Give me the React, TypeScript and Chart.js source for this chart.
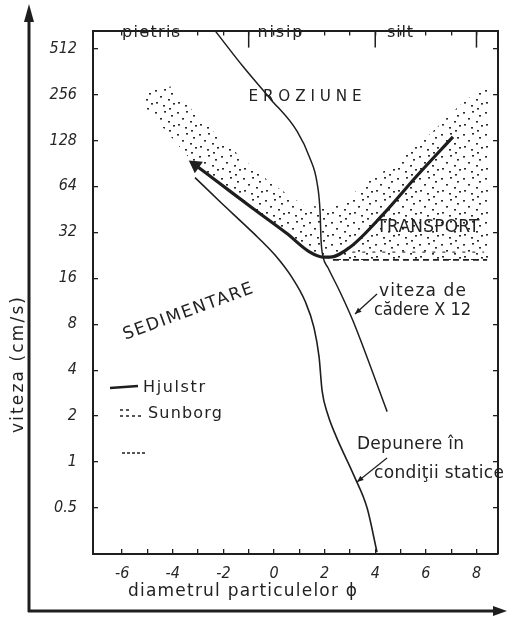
import React, { useEffect, useRef } from "react";
import { Chart, registerables } from "chart.js";

Chart.register(...registerables);

// ---------- data ----------
const xTickValues = [-6, -5, -4, -3, -2, -1, 0, 1, 2, 3, 4, 5, 6, 7, 8];
const xLabelValues = [-6, -4, -2, 0, 2, 4, 6, 8];
const xLabels = ["-6", "-4", "-2", "0", "2", "4", "6", "8"];

const yTickValues = [0.5, 1, 2, 4, 8, 16, 32, 64, 128, 256, 512];
const yLabels = ["0.5", "1", "2", "4", "8", "16", "32", "64", "128", "256", "512"];

const classBoundaries = [-1, 4, 8];
const classNames = ["pietris", "nisip", "silt"];

// Hjulström erosion curve
const hjulstromPhi = [-3.1, -2.1, -0.83, 0.5, 1.42, 1.94, 2.21, 3.0, 4.31, 5.65, 7.07];
const hjulstromV = [88, 66, 45.8, 31.5, 23.7, 22, 22, 25.5, 41.9, 75, 135];

// "viteza de cădere X 12"
const caderePhi = [-2.33, -1.23, -0.16, 0.91, 1.42, 1.7, 1.82, 1.86, 1.94, 2.13, 2.61, 3.12, 4.47];
const cadereV = [670, 391, 241, 147, 97.8, 67.8, 43.8, 28.3, 22.1, 18.8, 13.0, 8.42, 2.14];

// "Depunere în condiţii statice"
const depunerePhi = [-3.12, -2.13, -0.83, 0.04, 0.71, 1.23, 1.58, 1.78, 1.9, 2.13, 2.45, 3.16, 3.68, 4.07];
const depunereV = [73, 50.7, 31.8, 22.7, 16.2, 11.3, 7.6, 4.9, 2.94, 2.04, 1.48, 0.815, 0.5, 0.257];

// Sundborg transport band (closed outline)
const sundborgPhi = [-5.22, -4.9, -4.07, -3.2, -2.81, -1.46, -0.16, 1.15, 2.33, 3.68, 4.98, 6.28, 7.35, 8.3, 8.5, 8.5, 2.3, 1.94, 1.42, 0.5, -0.83, -2.1, -3.1];
const sundborgV = [224, 271, 288, 200, 170, 105, 68, 48.5, 45.8, 67.8, 95, 147, 218, 292, 280, 21.1, 21.1, 22, 23.7, 31.5, 45.8, 66, 88];

// transport limits (dashed)
const transportLimitPhi = [2.33, 8.42];
const transportLimitV = [21.1, 21.1];
const transportInnerPhi = [2.7, 8.3];
const transportInnerV = [23.7, 23.7];

// ---------- style ----------
const INK = "#1e1e1e";
const FONT = "'DejaVu Sans Condensed', 'Liberation Sans Narrow', 'DejaVu Sans', sans-serif";
const TEXT_FONT = "'DejaVu Sans', 'Liberation Sans', sans-serif";

const pts = (xs: number[], ys: number[]) => xs.map((x, i) => ({ x, y: ys[i] }));

function makeStipple(): CanvasPattern | string {
  const c = document.createElement("canvas");
  c.width = 22;
  c.height = 22;
  const g = c.getContext("2d");
  if (!g) return "rgba(0,0,0,0.25)";
  g.fillStyle = "#2a2a2a";
  const dots = [[1, 2], [10, 1], [17, 5], [6, 8], [14, 11], [2, 14], [19, 15], [9, 17], [15, 20]];
  for (const [x, y] of dots) g.fillRect(x, y, 2, 1.6);
  return g.createPattern(c, "repeat") || "rgba(0,0,0,0.25)";
}

const decor = {
  id: "decor",
  beforeDraw(chart: any) {
    const ctx = chart.ctx;
    ctx.save();
    ctx.fillStyle = "#ffffff";
    ctx.fillRect(0, 0, chart.width, chart.height);
    ctx.restore();
  },
  afterDraw(chart: any) {
    const ctx: CanvasRenderingContext2D = chart.ctx;
    const xs = chart.scales.x;
    const area = chart.chartArea;
    ctx.save();
    ctx.strokeStyle = INK;
    ctx.fillStyle = INK;

    // long class-boundary ticks on top axis
    ctx.lineWidth = 1.5;
    classBoundaries.forEach((b) => {
      const px = xs.getPixelForValue(b);
      ctx.beginPath();
      ctx.moveTo(px, area.top);
      ctx.lineTo(px, area.top + 17);
      ctx.stroke();
    });

    // outer axes arrows
    ctx.lineWidth = 3;
    ctx.beginPath();
    ctx.moveTo(29, 612);
    ctx.lineTo(29, 18);
    ctx.stroke();
    ctx.beginPath();
    ctx.moveTo(29, 4);
    ctx.lineTo(24, 22);
    ctx.lineTo(34, 22);
    ctx.closePath();
    ctx.fill();
    ctx.beginPath();
    ctx.moveTo(28, 611);
    ctx.lineTo(496, 611);
    ctx.stroke();
    ctx.beginPath();
    ctx.moveTo(507, 611);
    ctx.lineTo(493, 606);
    ctx.lineTo(493, 616);
    ctx.closePath();
    ctx.fill();

    // text with given size, letter-spaced to a target width
    const txt = (s: string, x: number, y: number, size: number, align: CanvasTextAlign, rot: number, w: number) => {
      ctx.save();
      ctx.translate(x, y);
      if (rot) ctx.rotate(rot);
      ctx.font = `${size}px ${TEXT_FONT}`;
      ctx.textBaseline = "middle";
      ctx.fillStyle = "#222";
      (ctx as any).letterSpacing = "0px";
      const m = ctx.measureText(s).width;
      const n = Math.max(1, s.length - 1);
      let spacing = (w - m) / n;
      let sx = 1;
      if (spacing < 0) {
        sx = w / m;
        spacing = 0;
      }
      (ctx as any).letterSpacing = `${spacing}px`;
      const startX = align === "center" ? -w / 2 : align === "right" ? -w : 0;
      ctx.textAlign = "left";
      ctx.scale(sx, 1);
      ctx.fillText(s, startX / sx, 0);
      ctx.restore();
    };

    // grain class names
    txt(classNames[0], 151, 33, 16, "center", 0, 58);
    txt(classNames[1], 280, 33, 16, "center", 0, 45);
    txt(classNames[2], 400, 33, 16, "center", 0, 26);

    // region labels
    txt("E R O Z I U N E", 305, 97, 16, "center", 0, 113);
    txt("TRANSPORT", 428, 228, 17, "center", 0, 103);
    txt("SEDIMENTARE", 188, 312, 17, "center", -0.35, 137);

    txt("viteza de", 379, 292, 17, "left", 0, 87);
    txt("cădere X 12", 374, 311, 17, "left", 0, 97);
    txt("Depunere în", 357, 445, 17, "left", 0, 107);
    txt("condiţii statice", 374, 474, 17, "left", 0, 130);

    // annotation arrows
    const arrow = (x1: number, y1: number, x2: number, y2: number) => {
      ctx.lineWidth = 1.3;
      ctx.beginPath();
      ctx.moveTo(x1, y1);
      ctx.lineTo(x2, y2);
      ctx.stroke();
      const a = Math.atan2(y2 - y1, x2 - x1);
      ctx.beginPath();
      ctx.moveTo(x2, y2);
      ctx.lineTo(x2 - 7 * Math.cos(a - 0.4), y2 - 7 * Math.sin(a - 0.4));
      ctx.lineTo(x2 - 7 * Math.cos(a + 0.4), y2 - 7 * Math.sin(a + 0.4));
      ctx.closePath();
      ctx.fill();
    };
    arrow(377, 294, 355, 314);
    arrow(387, 458, 357, 482);

    // legend
    ctx.lineWidth = 2.5;
    ctx.beginPath();
    ctx.moveTo(110, 388);
    ctx.lineTo(138, 386);
    ctx.stroke();
    txt("Hjulstr", 143, 388, 16, "left", 0, 62);
    ctx.lineWidth = 1.3;
    ctx.setLineDash([3, 3]);
    ctx.beginPath();
    ctx.moveTo(120, 410);
    ctx.lineTo(132, 410);
    ctx.moveTo(120, 416);
    ctx.lineTo(143, 416);
    ctx.stroke();
    txt("Sunborg", 148, 414, 16, "left", 0, 74);
    ctx.setLineDash([3, 2]);
    ctx.beginPath();
    ctx.moveTo(122, 453);
    ctx.lineTo(146, 453);
    ctx.stroke();
    ctx.setLineDash([]);

    // axis titles
    txt("diametrul particulelor ϕ", 128, 592, 17, "left", 0, 229);
    txt("viteza (cm/s)", 19, 365, 17, "center", -Math.PI / 2, 136);

    ctx.restore();
  },
};

export default function App() {
  const ref = useRef<HTMLCanvasElement | null>(null);

  useEffect(() => {
    if (!ref.current) return;
    const tickFont = { family: FONT, size: 16, style: "italic" as const };
    const gridCfg = { drawOnChartArea: false, tickLength: -5, color: INK, lineWidth: 1.3 };
    const borderCfg = { color: INK, width: 2 };

    const chart = new Chart(ref.current, {
      type: "line",
      data: {
        datasets: [
          {
            label: "Hjulström",
            data: pts(hjulstromPhi, hjulstromV),
            borderColor: INK,
            borderWidth: 3.2,
            cubicInterpolationMode: "monotone",
            pointRadius: (c: any) => (c.dataIndex === 0 ? 5 : 0),
            pointStyle: "triangle",
            pointRotation: -55,
            pointBackgroundColor: INK,
            pointBorderColor: INK,
            fill: false,
            order: 0,
          },
          {
            label: "viteza de cădere X 12",
            data: pts(caderePhi, cadereV),
            borderColor: INK,
            borderWidth: 1.5,
            cubicInterpolationMode: "monotone",
            pointRadius: 0,
            fill: false,
            order: 1,
          },
          {
            label: "Depunere în condiţii statice",
            data: pts(depunerePhi, depunereV),
            borderColor: INK,
            borderWidth: 1.6,
            cubicInterpolationMode: "monotone",
            pointRadius: 0,
            fill: false,
            order: 1,
          },
          {
            label: "limita transport",
            data: pts(transportLimitPhi, transportLimitV),
            borderColor: INK,
            borderWidth: 1.6,
            borderDash: [6, 4],
            pointRadius: 0,
            fill: false,
            order: 2,
          },
          {
            label: "transport",
            data: pts(transportInnerPhi, transportInnerV),
            borderColor: "#444",
            borderWidth: 1.2,
            borderDash: [3, 7],
            pointRadius: 0,
            fill: false,
            order: 2,
          },
          {
            label: "Sunborg",
            data: pts(sundborgPhi, sundborgV),
            borderWidth: 0,
            borderColor: "rgba(0,0,0,0)",
            backgroundColor: makeStipple() as any,
            pointRadius: 0,
            tension: 0,
            fill: "shape",
            order: 10,
          },
        ],
      },
      options: {
        responsive: false,
        animation: false,
        devicePixelRatio: 1,
        layout: { padding: 0 },
        plugins: { legend: { display: false }, tooltip: { enabled: false } },
        scales: {
          x: {
            type: "linear",
            position: "bottom",
            min: -7.15,
            max: 8.85,
            afterFit: (s: any) => {
              s.height = 63;
            },
            afterBuildTicks: (s: any) => {
              s.ticks = xTickValues.map((v) => ({ value: v }));
            },
            ticks: {
              autoSkip: false,
              maxRotation: 0,
              padding: 15,
              color: "#262626",
              font: tickFont,
              callback: (v: any) => {
                const i = xLabelValues.indexOf(Number(v));
                return i >= 0 ? xLabels[i] : "";
              },
            },
            grid: gridCfg,
            border: borderCfg,
          },
          x2: {
            type: "linear",
            position: "top",
            min: -7.15,
            max: 8.85,
            afterFit: (s: any) => {
              s.height = 13;
            },
            afterBuildTicks: (s: any) => {
              s.ticks = xTickValues.map((v) => ({ value: v }));
            },
            ticks: { autoSkip: false, maxRotation: 0, callback: () => "" },
            grid: gridCfg,
            border: borderCfg,
          },
          y: {
            type: "logarithmic",
            position: "left",
            min: 0.25,
            max: 670,
            afterFit: (s: any) => {
              s.width = 93;
            },
            afterBuildTicks: (s: any) => {
              s.ticks = yTickValues.map((v) => ({ value: v }));
            },
            ticks: {
              autoSkip: false,
              padding: 21,
              color: "#262626",
              font: tickFont,
              callback: (v: any) => {
                const i = yTickValues.indexOf(Number(v));
                return i >= 0 ? yLabels[i] : "";
              },
            },
            grid: gridCfg,
            border: borderCfg,
          },
          y2: {
            type: "logarithmic",
            position: "right",
            min: 0.25,
            max: 670,
            afterFit: (s: any) => {
              s.width = 10;
            },
            afterBuildTicks: (s: any) => {
              s.ticks = yTickValues.map((v) => ({ value: v }));
            },
            ticks: { autoSkip: false, callback: () => "" },
            grid: gridCfg,
            border: borderCfg,
          },
        },
      } as any,
      plugins: [decor as any],
    });

    return () => chart.destroy();
  }, []);

  return (
    <div style={{ position: "absolute", left: 0, top: 0, width: 508, height: 617, background: "#fff" }}>
      <canvas ref={ref} width={508} height={617} style={{ display: "block", width: 508, height: 617 }} />
    </div>
  );
}
